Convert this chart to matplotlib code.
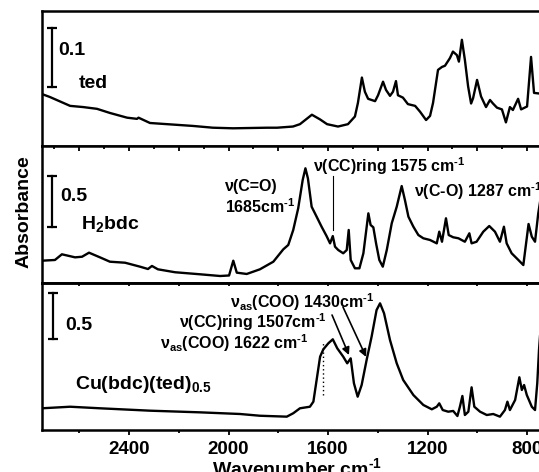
import matplotlib
matplotlib.use('Agg')
import matplotlib.pyplot as plt
from matplotlib.ticker import MultipleLocator

plt.rcParams['font.family'] = ['Liberation Sans', 'DejaVu Sans']
plt.rcParams['font.weight'] = 'bold'
plt.rcParams['mathtext.fontset'] = 'custom'
plt.rcParams['mathtext.rm'] = 'Liberation Sans:bold'
plt.rcParams['mathtext.it'] = 'Liberation Sans:bold'
plt.rcParams['mathtext.bf'] = 'Liberation Sans:bold'
plt.rcParams['mathtext.sf'] = 'Liberation Sans:bold'
plt.rcParams['mathtext.default'] = 'regular'

# ---------------- data ----------------
ted_wn = [2750, 2718, 2637, 2585, 2529, 2477, 2408, 2368, 2362, 2316,
          2247, 2143, 2063, 1982, 1845, 1805, 1741, 1713, 1665, 1632,
          1604, 1560, 1520, 1492, 1480, 1464, 1452, 1439, 1411, 1399,
          1379, 1367, 1351, 1339, 1327, 1319, 1299, 1279, 1250, 1230,
          1206, 1190, 1178, 1158, 1142, 1130, 1110, 1098, 1082, 1074,
          1062, 1050, 1037, 1025, 1017, 1001, 985, 965, 949, 937,
          921, 901, 885, 869, 857, 836, 824, 800, 784, 772,
          752, 730]
ted_abs = [0.088, 0.083, 0.068, 0.066, 0.063, 0.056, 0.048, 0.046, 0.048, 0.039,
           0.037, 0.034, 0.031, 0.030, 0.031, 0.031, 0.033, 0.037, 0.053, 0.045,
           0.037, 0.033, 0.037, 0.050, 0.073, 0.116, 0.092, 0.080, 0.076, 0.086,
           0.109, 0.095, 0.085, 0.092, 0.110, 0.086, 0.082, 0.071, 0.068, 0.058,
           0.044, 0.051, 0.073, 0.129, 0.134, 0.136, 0.149, 0.160, 0.154, 0.143,
           0.180, 0.146, 0.101, 0.072, 0.081, 0.112, 0.084, 0.066, 0.078, 0.072,
           0.065, 0.062, 0.040, 0.066, 0.061, 0.080, 0.062, 0.067, 0.151, 0.090,
           0.089, 0.090]

h2bdc_wn = [2750, 2698, 2670, 2617, 2589, 2561, 2517, 2477, 2416, 2356,
            2324, 2308, 2284, 2215, 2115, 2034, 1998, 1981, 1967, 1927,
            1874, 1820, 1780, 1760, 1740, 1720, 1702, 1691, 1681, 1666,
            1646, 1626, 1606, 1592, 1581, 1572, 1559, 1539, 1525, 1517,
            1509, 1492, 1474, 1458, 1438, 1429, 1418, 1407, 1394, 1380,
            1364, 1344, 1324, 1304, 1291, 1277, 1257, 1237, 1217, 1190,
            1163, 1153, 1142, 1126, 1115, 1097, 1076, 1050, 1032, 1023,
            1003, 976, 952, 929, 909, 893, 882, 862, 835, 815,
            794, 781, 768, 755, 735]
h2bdc_abs = [0.220, 0.227, 0.283, 0.253, 0.259, 0.299, 0.253, 0.210, 0.200, 0.161,
             0.138, 0.168, 0.135, 0.106, 0.086, 0.069, 0.074, 0.220, 0.102, 0.089,
             0.135, 0.210, 0.332, 0.375, 0.523, 0.737, 1.016, 1.131, 1.032, 0.752,
             0.654, 0.555, 0.463, 0.391, 0.463, 0.358, 0.325, 0.293, 0.325, 0.523,
             0.227, 0.145, 0.145, 0.293, 0.687, 0.572, 0.549, 0.391, 0.227, 0.161,
             0.325, 0.589, 0.752, 0.956, 0.818, 0.654, 0.555, 0.473, 0.441, 0.424,
             0.391, 0.506, 0.407, 0.638, 0.473, 0.451, 0.441, 0.407, 0.490, 0.391,
             0.407, 0.506, 0.562, 0.506, 0.407, 0.555, 0.391, 0.293, 0.227, 0.177,
             0.582, 0.457, 0.407, 0.687, 1.000]

cu_wn = [2750, 2637, 2517, 2316, 2115, 1954, 1874, 1766, 1740, 1713,
         1673, 1659, 1646, 1632, 1619, 1599, 1581, 1563, 1539, 1523,
         1509, 1496, 1481, 1465, 1445, 1425, 1405, 1391, 1375, 1351,
         1324, 1298, 1257, 1217, 1183, 1163, 1153, 1139, 1117, 1097,
         1080, 1070, 1060, 1050, 1036, 1023, 1012, 989, 962, 936,
         909, 889, 879, 869, 848, 831, 821, 812, 801, 781,
         768, 759, 752, 735]
cu_abs = [0.236, 0.253, 0.236, 0.210, 0.192, 0.174, 0.155, 0.145, 0.182, 0.236,
          0.253, 0.308, 0.544, 0.797, 0.877, 0.942, 0.986, 0.888, 0.797, 0.725,
          0.779, 0.508, 0.362, 0.489, 0.761, 1.014, 1.304, 1.377, 1.269, 0.978,
          0.725, 0.544, 0.380, 0.272, 0.225, 0.253, 0.290, 0.217, 0.199, 0.207,
          0.152, 0.253, 0.370, 0.163, 0.199, 0.464, 0.253, 0.199, 0.163, 0.174,
          0.145, 0.217, 0.308, 0.217, 0.326, 0.573, 0.435, 0.489, 0.380, 0.253,
          0.217, 0.508, 0.870, 1.500]

panel_labels = ['ted', 'H$_2$bdc', 'Cu(bdc)(ted)$_{0.5}$']
scale_labels = ['0.1', '0.5', '0.5']

# ---------------- layout ----------------
W, H = 539, 472
fig = plt.figure(figsize=(W / 100, H / 100), dpi=100)
PX_PER_WN = 0.24875
X_LEFT, X_RIGHT = 2750, 700


def box(top, bottom):
    return [42 / W, 1 - bottom / H, (X_LEFT - X_RIGHT) * PX_PER_WN / W, (bottom - top) / H]


def ftext(px, py, s, **kw):
    kw.setdefault('va', 'baseline')
    kw.setdefault('ha', 'left')
    fig.text(px / W, 1 - py / H, s, **kw)


ax1 = fig.add_axes(box(11, 146))
ax2 = fig.add_axes(box(146, 283))
ax3 = fig.add_axes(box(283, 430))

LW = 1.7
for ax, wn, a, yl in [(ax1, ted_wn, ted_abs, 0.2288),
                      (ax2, h2bdc_wn, h2bdc_abs, 1.351),
                      (ax3, cu_wn, cu_abs, 1.598)]:
    ax.plot(wn, a, color='black', lw=LW, solid_joinstyle='round')
    ax.set_xlim(X_LEFT, X_RIGHT)
    ax.set_ylim(0, yl)
    ax.set_yticks([])
    for s in ax.spines.values():
        s.set_linewidth(1.8)

# ticks
ax1.tick_params(axis='x', which='both', bottom=False, top=False, labelbottom=False)

ax2.xaxis.set_major_locator(MultipleLocator(200))
ax2.xaxis.set_minor_locator(MultipleLocator(100))
ax2.tick_params(axis='x', which='both', top=True, bottom=False, labelbottom=False,
                direction='in')
ax2.tick_params(axis='x', which='major', length=3.5, width=1.3)
ax2.tick_params(axis='x', which='minor', length=1.8, width=1.3)

ax3.xaxis.set_major_locator(MultipleLocator(400))
ax3.xaxis.set_minor_locator(MultipleLocator(200))
ax3.tick_params(axis='x', which='both', direction='out', top=False, bottom=True)
ax3.tick_params(axis='x', which='major', length=3.5, width=1.3, labelsize=13.5, pad=4.5)
ax3.tick_params(axis='x', which='minor', length=2.5, width=1.3)
for lab in ax3.get_xticklabels():
    lab.set_fontweight('bold')
sec = ax3.secondary_xaxis('top')
sec.xaxis.set_major_locator(MultipleLocator(200))
sec.tick_params(axis='x', direction='in', length=2.5, width=1.3,
                labeltop=False, labelbottom=False)
sec.spines['top'].set_linewidth(1.8)

# scale bars
ax1.plot([2710, 2710], [0.100, 0.200], color='black', lw=1.6,
         marker='_', ms=7, mew=1.6)
ax2.plot([2708, 2708], [0.555, 1.055], color='black', lw=1.6,
         marker='_', ms=7, mew=1.6)
ax3.plot([2705, 2705], [0.989, 1.489], color='black', lw=1.6,
         marker='_', ms=7, mew=1.6)

# annotations, lines, arrows
ax2.plot([1582, 1582], [0.523, 1.055], color='black', lw=0.8)
ax3.plot([1620, 1620], [0.380, 0.946], color='black', lw=1.0, ls=(0, (1, 2)))
ax3.annotate('', xy=(1516, 0.815), xytext=(1584, 1.250),
             arrowprops=dict(arrowstyle='-|>', color='black', lw=1.2,
                             mutation_scale=11, shrinkA=0, shrinkB=0))
ax3.annotate('', xy=(1447, 0.794), xytext=(1540, 1.337),
             arrowprops=dict(arrowstyle='-|>', color='black', lw=1.2,
                             mutation_scale=11, shrinkA=0, shrinkB=0))

BIG = 14
SM = 11.5
SUP = r'$^{\text{-1}}$'
ftext(58, 55, scale_labels[0], fontsize=BIG)
ftext(79, 88.3, panel_labels[0], fontsize=BIG)
ftext(60, 200.7, scale_labels[1], fontsize=BIG)
ftext(81, 229.3, panel_labels[1], fontsize=BIG)
ftext(65, 330, scale_labels[2], fontsize=BIG)
ftext(75, 389.3, panel_labels[2], fontsize=BIG)

ftext(225, 191.5, 'ν(C=O)', fontsize=SM)
ftext(225, 213.3, '1685cm' + SUP, fontsize=SM)
ftext(313, 171.7, 'ν(CC)ring 1575 cm' + SUP, fontsize=SM)
ftext(414, 196.7, 'ν(C-O) 1287 cm' + SUP, fontsize=SM)

ftext(230, 308.3, 'ν$_{as}$(COO) 1430cm' + SUP, fontsize=SM)
ftext(179, 328.3, 'ν(CC)ring 1507cm' + SUP, fontsize=SM)
ftext(160, 349.3, 'ν$_{as}$(COO) 1622 cm' + SUP, fontsize=SM)

ftext(24, 212, 'Absorbance', fontsize=BIG, rotation=90, ha='center', va='center')
ftext(297, 475.5, 'Wavenumber cm' + SUP, fontsize=BIG, ha='center')

fig.savefig('out.png', dpi=100)
